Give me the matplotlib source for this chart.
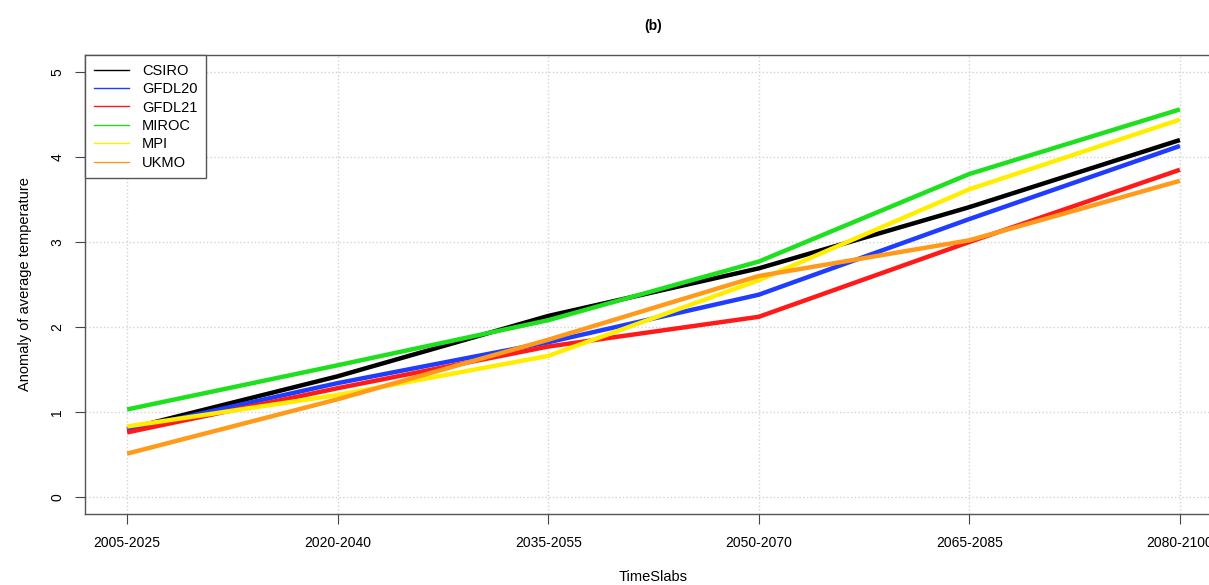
import matplotlib
matplotlib.use("Agg")
from matplotlib import pyplot as plt
from matplotlib.lines import Line2D

plt.rcParams['font.family'] = ['Liberation Sans', 'DejaVu Sans']

slabs = ['2005-2025', '2020-2040', '2035-2055', '2050-2070', '2065-2085', '2080-2100']
models = ['CSIRO', 'GFDL20', 'GFDL21', 'MIROC', 'MPI', 'UKMO']
colors = ['black', '#1f3dff', '#ff1a1a', '#1fe01f', '#ffee00', '#ff9a1a']

csiro = [0.80, 1.42, 2.13, 2.69, 3.41, 4.20]
gfdl20 = [0.79, 1.34, 1.82, 2.38, 3.27, 4.13]
gfdl21 = [0.76, 1.28, 1.77, 2.12, 3.00, 3.85]
miroc = [1.03, 1.55, 2.08, 2.77, 3.80, 4.56]
mpi = [0.83, 1.20, 1.66, 2.55, 3.62, 4.44]
ukmo = [0.51, 1.15, 1.85, 2.60, 3.02, 3.72]
series = [csiro, gfdl20, gfdl21, miroc, mpi, ukmo]

fig = plt.figure(figsize=(12.09, 5.85), dpi=100)
# R style frame, right edge is cut off in the reference
ax = fig.add_axes([85/1209, 71/585, 1137/1209, 459/585])

x = list(range(1, len(slabs) + 1))
for vals, col in zip(series, colors):
    ax.plot(x, vals, color=col, lw=3.2, solid_capstyle='butt', zorder=3)

ax.set_xlim(0.8, 6.2)
ax.set_ylim(-0.2, 5.2)
ax.set_xticks(x)
ax.set_xticklabels(slabs, fontsize=10)
ax.set_yticks(range(0, 6))
ax.set_yticklabels([str(i) for i in range(0, 6)], fontsize=10, rotation=90, va='center')
ax.tick_params(length=7, width=0.8, color='#444444')
ax.tick_params(axis='x', pad=9)
ax.tick_params(axis='y', pad=8)

# grid() like dotted lightgray lines
for xi in x:
    ax.axvline(xi, color='lightgray', ls=':', lw=1, zorder=1)
for yi in range(0, 6):
    ax.axhline(yi, color='lightgray', ls=':', lw=1, zorder=1)

for s in ax.spines.values():
    s.set_color('#555555')
    s.set_linewidth(1)

ax.set_xlabel('TimeSlabs', fontsize=10.5, labelpad=14)
ax.set_ylabel('Anomaly of average temperature', fontsize=10.5, labelpad=13)
ax.set_title('(b)', fontsize=10, fontweight='bold', pad=18)

handles = [Line2D([0], [0], color=c, lw=1) for c in colors]
leg = ax.legend(handles, models, loc='upper left', borderaxespad=0, fancybox=False,
                edgecolor='#555555', fontsize=10.5, handlelength=2.4, handletextpad=0.9,
                labelspacing=0.3, borderpad=0.6, framealpha=1)
leg.get_frame().set_linewidth(1)

fig.savefig('out.png', dpi=100)
